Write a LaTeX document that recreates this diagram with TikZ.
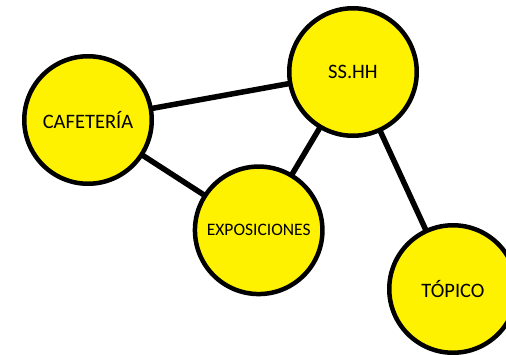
\documentclass[tikz,border=0pt]{standalone}
\usepackage{fontspec}
\setmainfont{Carlito}
\begin{document}
\begin{tikzpicture}[x=1pt,y=-1pt,
  place/.style={circle,draw=black,fill=yellow,line width=4.5pt,minimum size=127.5pt,inner sep=0pt,font=\fontsize{20.5}{24}\selectfont},
  link/.style={draw=black,line width=5.5pt}]
\useasboundingbox (0,0) rectangle (506,354);
\clip (0,0) rectangle (506,354);
\coordinate (cc) at (88,120);
\coordinate (sc) at (353,72);
\coordinate (ec) at (258.7,230.3);
\coordinate (tc) at (453,289);
\draw[link] (cc) -- (sc);
\draw[link] (cc) -- (ec);
\draw[link] (sc) -- (ec);
\draw[link] (sc) -- (tc);
\node[place] (caf) at (cc) {CAFETERÍA};
\node[place] (ss) at (sc) {SS.HH};
\node[place,font=\fontsize{17.5}{21}\selectfont] (exp) at (ec) {EXPOSICIONES};
\node[place] (top) at (tc) {TÓPICO};
\end{tikzpicture}
\end{document}
